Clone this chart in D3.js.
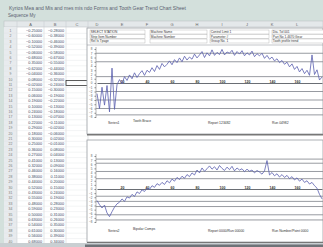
<!DOCTYPE html>
<html>
<head>
<meta charset="utf-8">
<script src="https://cdn.jsdelivr.net/npm/d3@7"></script>
<style>
  body { margin: 0; background: #d3e0dc; }
  text { font-family: "Liberation Sans", Arial, sans-serif; }
</style>
</head>
<body>
<div id="chart"></div>
<script>
const width = 323;
const height = 247;

// series (sample number every 2)
const samples = d3.range(0, 182, 2);
const series1 = [
  -2.5, -6.0, -1.0, -5.2, -0.6, -6.8, 3.5, -6.2, -0.4, 0.8,
  -0.2, 1.5, 0.6, 1.9, 1.0, 2.4, 1.3, 2.2, 2.9, 1.8,
  3.0, 2.5, 3.6, 2.7, 4.1, 3.2, 4.6, 3.8, 4.4, 5.2,
  4.3, 5.5, 4.8, 5.9, 5.0, 6.3, 5.4, 6.1, 5.6, 6.8,
  5.9, 6.6, 7.4, 6.0, 7.1, 6.4, 7.8, 6.5, 7.2, 6.7,
  7.9, 6.6, 7.3, 7.0, 7.7, 6.5, 7.4, 6.8, 7.6, 6.4,
  7.1, 6.6, 7.5, 6.2, 6.9, 6.4, 7.0, 5.8, 6.5, 5.6,
  6.1, 5.2, 5.7, 4.8, 5.3, 4.4, 4.9, 3.8, 4.5, 3.2,
  3.9, 2.6, 3.4, 2.2, 3.0, 1.8, 6.6, 2.0, 3.1, 0.7, 1.4
];
const series2 = [
  -2.8, -3.8, -4.6, -3.9, -5.8, -6.7, -5.5, -4.4, -3.6, -3.2,
  -2.4, -3.0, -1.9, -2.2, -1.3, -1.8, -0.7, -1.1, -0.2, -0.6,
  0.2, -0.1, 0.8, 0.4, 1.3, 0.9, 1.6, 1.1, 2.0, 1.5,
  2.4, 1.9, 2.8, 2.3, 3.1, 2.6, 3.5, 3.0, 3.9, 3.4,
  4.6, 3.9, 5.1, 4.3, 4.9, 5.6, 4.8, 5.4, 4.6, 5.7,
  5.0, 4.5, 5.3, 4.7, 5.5, 4.4, 5.1, 4.6, 4.9, 4.2,
  4.8, 4.3, 4.6, 3.9, 4.5, 4.1, 3.6, 4.4, 6.9, 3.4,
  4.0, 3.2, 3.7, 2.9, 3.5, 2.8, 3.3, 2.5, 3.0, 2.2,
  2.7, 1.9, 2.4, 1.6, 2.0, 1.2, 1.6, 0.8, 0.2, -1.3, -2.4
];
const xTicks = [20, 40, 60, 80, 100, 120, 140, 160];
const limits1 = [7, 5, 1.5, -2, -4, -6, -7.5];
const limits2 = [7.25, 6.25, 4.25, 2.5, -1.75, -3, -4.25, -6.25, -7.5];
const yTicks = d3.range(-8, 9, 1);

const columns = ["A", "B", "C", "D", "E", "F", "G", "H", "I", "J", "K", "L"];
const infoLabels = [
  ["SELECT STATION", "Strip Item Number", "Rel Is Tpage"],
  ["Machine Name", "Machine Number", ""],
  ["Control Limit 1", "Parameter #", "Group No. 1"],
  ["Dia. Tol 001", "Part No 1.4670 Gear", "Tooth profile trend"]
];
const footer1 = ["Series1", "Tooth Brace", "Report 123482", "Run 04982"];
const footer2 = ["Series2", "Bipolar Comps", "Report 0000/Run 00000", "Run Number/Point 0000"];

const svg = d3.select("#chart").append("svg")
  .attr("width", width)
  .attr("height", height);

// window background
svg.append("rect").attr("width", width).attr("height", height).attr("fill", "#d3e0dc");

svg.append("text").attr("x", 9).attr("y", 10).attr("fill", "#5a6070")
  .style("font-size", "5px")
  .text("Kyrios Mea and Mis and mes mis ndo Forms and Tooth Gear Trend Chart Sheet");
svg.append("text").attr("x", 8).attr("y", 16.5).attr("fill", "#5a6070")
  .style("font-size", "4.5px").text("Sequence My");

// sheet body
const rowTop = 28, rowH = 5.4, nRows = 40;
svg.append("rect").attr("x", 4).attr("y", 21).attr("width", width - 4).attr("height", 222)
  .attr("fill", "#fff");
svg.append("rect").attr("x", 4).attr("y", 21).attr("width", width - 4).attr("height", 6)
  .attr("fill", "#e4e8ea").attr("stroke", "#b8bcc0").attr("stroke-width", 0.5);
svg.append("rect").attr("x", 4).attr("y", 27).attr("width", 13).attr("height", 216)
  .attr("fill", "#e8ebee");

const colX = [17, 44, 66, 88];
colX.forEach(x => svg.append("line").attr("x1", x).attr("x2", x).attr("y1", 21).attr("y2", 243)
  .attr("stroke", "#c4c8cc").attr("stroke-width", 0.5));
["A", "B", "C"].forEach((c, i) => svg.append("text")
  .attr("x", (colX[i] + colX[i + 1]) / 2).attr("y", 25.8).attr("text-anchor", "middle")
  .attr("fill", "#666").style("font-size", "4px").text(c));
columns.slice(3).forEach((c, i) => svg.append("text")
  .attr("x", 97 + i * 25).attr("y", 25.8).attr("text-anchor", "middle")
  .attr("fill", "#666").style("font-size", "4px").text(c));

const fmt = d3.format(".5f");
d3.range(nRows).forEach(r => {
  const y = rowTop + r * rowH;
  svg.append("line").attr("x1", 4).attr("x2", 88).attr("y1", y + rowH).attr("y2", y + rowH)
    .attr("stroke", "#e0e3e6").attr("stroke-width", 0.4);
  svg.append("text").attr("x", 10.5).attr("y", y + 4).attr("text-anchor", "middle")
    .attr("fill", "#777").style("font-size", "3.4px").text(r + 1);
  svg.append("text").attr("x", 42).attr("y", y + 4).attr("text-anchor", "end")
    .attr("fill", "#3d4660").style("font-size", "3.8px").text(fmt(series1[r] / 10));
  svg.append("text").attr("x", 64).attr("y", y + 4).attr("text-anchor", "end")
    .attr("fill", "#3d4660").style("font-size", "3.8px").text(fmt(series2[r] / 10));
});
svg.append("rect").attr("x", 66).attr("y", 80.5).attr("width", 22).attr("height", 5)
  .attr("fill", "none").attr("stroke", "#333").attr("stroke-width", 0.8);

// chart objects
function drawChart(top, bottom, plotTop, plotBottom, data, limits, footer, withInfo) {
  const g = svg.append("g");
  g.append("rect").attr("x", 87).attr("y", top).attr("width", width - 87).attr("height", bottom - top)
    .attr("fill", "#fff").attr("stroke", "#9a9ea4").attr("stroke-width", 0.8);
  g.append("line").attr("x1", 87).attr("x2", width).attr("y1", bottom + 0.8).attr("y2", bottom + 0.8)
    .attr("stroke", "#777").attr("stroke-width", 1.5);

  const x = d3.scaleLinear().domain([0, 180]).range([97, 322]);
  const y = d3.scaleLinear().domain([-8, 8]).range([plotBottom, plotTop]);

  if (withInfo) {
    const gx = [90, 150, 210, 272];
    const boxW = [55, 57, 59, 52];
    infoLabels.forEach((labels, i) => {
      labels.forEach((lab, j) => {
        const yy = top + 2 + j * 4.5;
        g.append("rect").attr("x", gx[i]).attr("y", yy).attr("width", boxW[i]).attr("height", 4)
          .attr("fill", "#fff").attr("stroke", "#aaa").attr("stroke-width", 0.4);
        g.append("text").attr("x", gx[i] + 0.8).attr("y", yy + 3.2).attr("fill", "#333")
          .style("font-size", "3.2px").text(lab);
      });
    });
    g.append("line").attr("x1", 87).attr("x2", width).attr("y1", top + 17).attr("y2", top + 17)
      .attr("stroke", "#9a9ea4").attr("stroke-width", 0.6);
  }

  g.append("line").attr("x1", 96).attr("x2", 96).attr("y1", plotTop - 2).attr("y2", plotBottom + 1)
    .attr("stroke", "#888").attr("stroke-width", 0.6);

  g.selectAll(".lim").data(limits).join("line")
    .attr("x1", 96).attr("x2", width).attr("y1", d => y(d)).attr("y2", d => y(d))
    .attr("stroke", "#8c9096").attr("stroke-width", 0.9);

  const yAxis = g.append("g").attr("transform", "translate(96,0)")
    .call(d3.axisLeft(y).tickValues(yTicks).tickSize(1.5).tickFormat(d3.format("d")));
  yAxis.select(".domain").remove();
  yAxis.selectAll("line").attr("stroke", "#888");
  yAxis.selectAll("text").attr("fill", "#555").style("font-size", "3px").attr("dx", "0.3em");

  const xAxis = g.append("g").attr("transform", `translate(0,${y(0)})`)
    .call(d3.axisBottom(x).tickValues(xTicks).tickSize(0));
  xAxis.select(".domain").attr("stroke", "#6a6e74").attr("stroke-width", 1.1);
  xAxis.selectAll("text").attr("fill", "#333").attr("y", -1.3).attr("dy", "0.32em")
    .style("font-size", "3.5px").style("font-weight", "bold");

  g.append("path").datum(data)
    .attr("fill", "none").attr("stroke", "#5b5fae").attr("stroke-width", 0.8)
    .attr("d", d3.line().x((d, i) => x(samples[i])).y(d => y(d)));

  const fx = [108, 133, 208, 272];
  footer.forEach((t, i) => g.append("text").attr("x", fx[i]).attr("y", bottom - 10 + (i === 1 ? -2 : 0))
    .attr("fill", "#333").style("font-size", "3.4px").text(t));
}

drawChart(28, 134, 49, 117, series1, limits1, footer1, true);
drawChart(140, 242, 156, 222, series2, limits2, footer2, false);

// bottom scroll strip
svg.append("rect").attr("x", 0).attr("y", 243).attr("width", width).attr("height", 4).attr("fill", "#c9cfd2");
svg.append("rect").attr("x", 85).attr("y", 244.5).attr("width", width - 85).attr("height", 2.5).attr("fill", "#6e7378");
</script>
</body>
</html>
